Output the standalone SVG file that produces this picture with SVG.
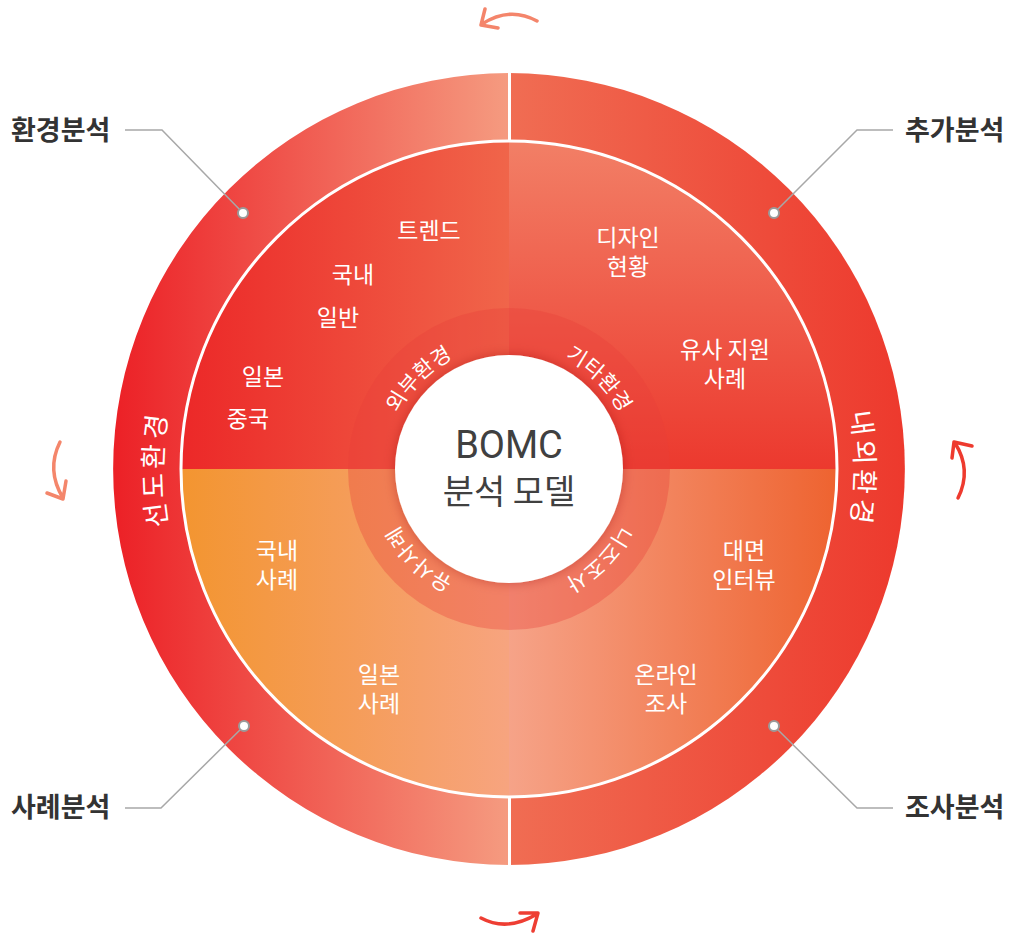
<svg xmlns="http://www.w3.org/2000/svg" width="1011" height="935" viewBox="0 0 1011 935">
<style>
.ct{font-family:"Noto Sans CJK KR","Noto Sans",sans-serif;font-size:23px;fill:#fff;text-anchor:middle}
.ring{font-family:"Noto Sans CJK KR","Noto Sans",sans-serif;font-size:21px;fill:#fff;letter-spacing:0.5px}
.outer{font-family:"Noto Sans CJK KR","Noto Sans",sans-serif;font-size:27px;fill:#fff;letter-spacing:4px}
.lbl{font-family:"Noto Sans CJK KR","Noto Sans",sans-serif;font-size:27px;font-weight:bold;fill:#333}
.lead{fill:none;stroke:#a8a8a8;stroke-width:1.5}
.dot{fill:#fff;stroke:#9a9a9a;stroke-width:2}
.arw{fill:none;stroke-width:3.5;stroke-linecap:round;stroke-linejoin:round}
</style>
<defs>
<linearGradient id="gOL" gradientUnits="userSpaceOnUse" x1="113" y1="0" x2="509" y2="0"><stop offset="0" stop-color="#ec2026"/><stop offset="1" stop-color="#f59b80"/></linearGradient>
<linearGradient id="gOR" gradientUnits="userSpaceOnUse" x1="509" y1="0" x2="905" y2="0"><stop offset="0" stop-color="#f06d53"/><stop offset="1" stop-color="#ed392d"/></linearGradient>
<linearGradient id="gTL" gradientUnits="userSpaceOnUse" x1="181" y1="0" x2="509" y2="0"><stop offset="0" stop-color="#ec2828"/><stop offset="1" stop-color="#f0654a"/></linearGradient>
<linearGradient id="gTR" gradientUnits="userSpaceOnUse" x1="0" y1="141" x2="0" y2="469"><stop offset="0" stop-color="#f27f66"/><stop offset="1" stop-color="#ec392e"/></linearGradient>
<linearGradient id="gBL" gradientUnits="userSpaceOnUse" x1="181" y1="0" x2="509" y2="0"><stop offset="0" stop-color="#f39530"/><stop offset="1" stop-color="#f7a47f"/></linearGradient>
<linearGradient id="gBR" gradientUnits="userSpaceOnUse" x1="509" y1="0" x2="837" y2="0"><stop offset="0" stop-color="#f6a388"/><stop offset="1" stop-color="#ee6330"/></linearGradient>
<path id="pIn" d="M509,593 A124,124 0 0 1 509,345 A124,124 0 0 1 509,593"/>
<path id="pOut" d="M509,815 A346,346 0 0 1 509,123 A346,346 0 0 1 509,815"/>
<filter id="sh" x="-30%" y="-30%" width="160%" height="160%"><feDropShadow dx="0" dy="0" stdDeviation="6" flood-color="#8a1a10" flood-opacity="0.35"/></filter>
</defs>

<g id="outer-ring">
<path d="M509,73 A396,396 0 0 0 509,865 Z" fill="url(#gOL)"/>
<path d="M509,73 A396,396 0 0 1 509,865 Z" fill="url(#gOR)"/>
<line x1="509.5" y1="68" x2="509.5" y2="145" stroke="#fff" stroke-width="3"/>
<line x1="509.5" y1="793" x2="509.5" y2="870" stroke="#fff" stroke-width="3"/>
<text class="outer"><textPath href="#pOut" startOffset="25%" text-anchor="middle">선도환경</textPath></text>
<text class="outer"><textPath href="#pOut" startOffset="75%" text-anchor="middle">내외환경</textPath></text>
</g>

<g id="q-external">
<path d="M509,469 L181,469 A328,328 0 0 1 509,141 Z" fill="url(#gTL)"/>
<text class="ct" x="429" y="239">트렌드</text>
<text class="ct" x="353" y="283">국내</text>
<text class="ct" x="338" y="326">일반</text>
<text class="ct" x="263" y="385">일본</text>
<text class="ct" x="248" y="427">중국</text>
</g>
<g id="q-other">
<path d="M509,469 L509,141 A328,328 0 0 1 837,469 Z" fill="url(#gTR)"/>
<text class="ct" x="628" y="246">디자인<tspan x="628" dy="29">현황</tspan></text>
<text class="ct" x="725" y="358">유사 지원<tspan x="725" dy="29">사례</tspan></text>
</g>
<g id="q-field">
<path d="M509,469 L837,469 A328,328 0 0 1 509,797 Z" fill="url(#gBR)"/>
<text class="ct" x="744" y="559">대면<tspan x="744" dy="29">인터뷰</tspan></text>
<text class="ct" x="666" y="683">온라인<tspan x="666" dy="29">조사</tspan></text>
</g>
<g id="q-cases">
<path d="M509,469 L509,797 A328,328 0 0 1 181,469 Z" fill="url(#gBL)"/>
<text class="ct" x="277" y="559">국내<tspan x="277" dy="29">사례</tspan></text>
<text class="ct" x="379" y="683">일본<tspan x="379" dy="29">사례</tspan></text>
</g>
<circle cx="509" cy="469" r="328" fill="none" stroke="#fff" stroke-width="3"/>

<g id="inner-ring">
<circle cx="509" cy="469" r="161" fill="#e8403a" opacity="0.35"/>
<text class="ring"><textPath href="#pIn" startOffset="37.5%" text-anchor="middle">외부환경</textPath></text>
<text class="ring"><textPath href="#pIn" startOffset="62.5%" text-anchor="middle">기타환경</textPath></text>
<text class="ring"><textPath href="#pIn" startOffset="87.5%" text-anchor="middle">니즈조사</textPath></text>
<text class="ring"><textPath href="#pIn" startOffset="12.5%" text-anchor="middle">유사사례</textPath></text>
</g>

<g id="center">
<circle cx="509" cy="469" r="114" fill="#fff" filter="url(#sh)"/>
<text x="509" y="458" text-anchor="middle" font-family="Roboto,'Noto Sans',sans-serif" font-size="38" fill="#404040">BOMC</text>
<text x="509" y="504" text-anchor="middle" font-family="'Noto Sans CJK KR',sans-serif" font-size="34" fill="#404040">분석 모델</text>
</g>

<g id="connectors">
<polyline class="lead" points="125,130 162,130 243,213"/>
<polyline class="lead" points="893,130 857,130 774,213"/>
<polyline class="lead" points="125,808 161,808 244,726"/>
<polyline class="lead" points="893,808 857,808 774,726"/>
<path class="arw" stroke="#f4856b" d="M537,21 Q510,6 482,24 M485,9 L481,25 L498,28"/>
<path class="arw" stroke="#ee3e33" d="M481,918 Q507,932 537,914 M520,913 L538,913 L533,931"/>
<path class="arw" stroke="#f4866b" d="M60,442 Q46,470 63,498 M47,493 L63,499 L66,481"/>
<path class="arw" stroke="#ee3a2e" d="M958,498 Q972,470 955,443 M972,446 L954,442 L952,458"/>
</g>

<g id="label-env"><circle class="dot" cx="243" cy="213" r="5"/><text class="lbl" x="11" y="140">환경분석</text></g>
<g id="label-add"><circle class="dot" cx="774" cy="213" r="5"/><text class="lbl" x="905" y="140">추가분석</text></g>
<g id="label-case"><circle class="dot" cx="244" cy="726" r="5"/><text class="lbl" x="11" y="817">사례분석</text></g>
<g id="label-survey"><circle class="dot" cx="774" cy="726" r="5"/><text class="lbl" x="905" y="817">조사분석</text></g>
</svg>
